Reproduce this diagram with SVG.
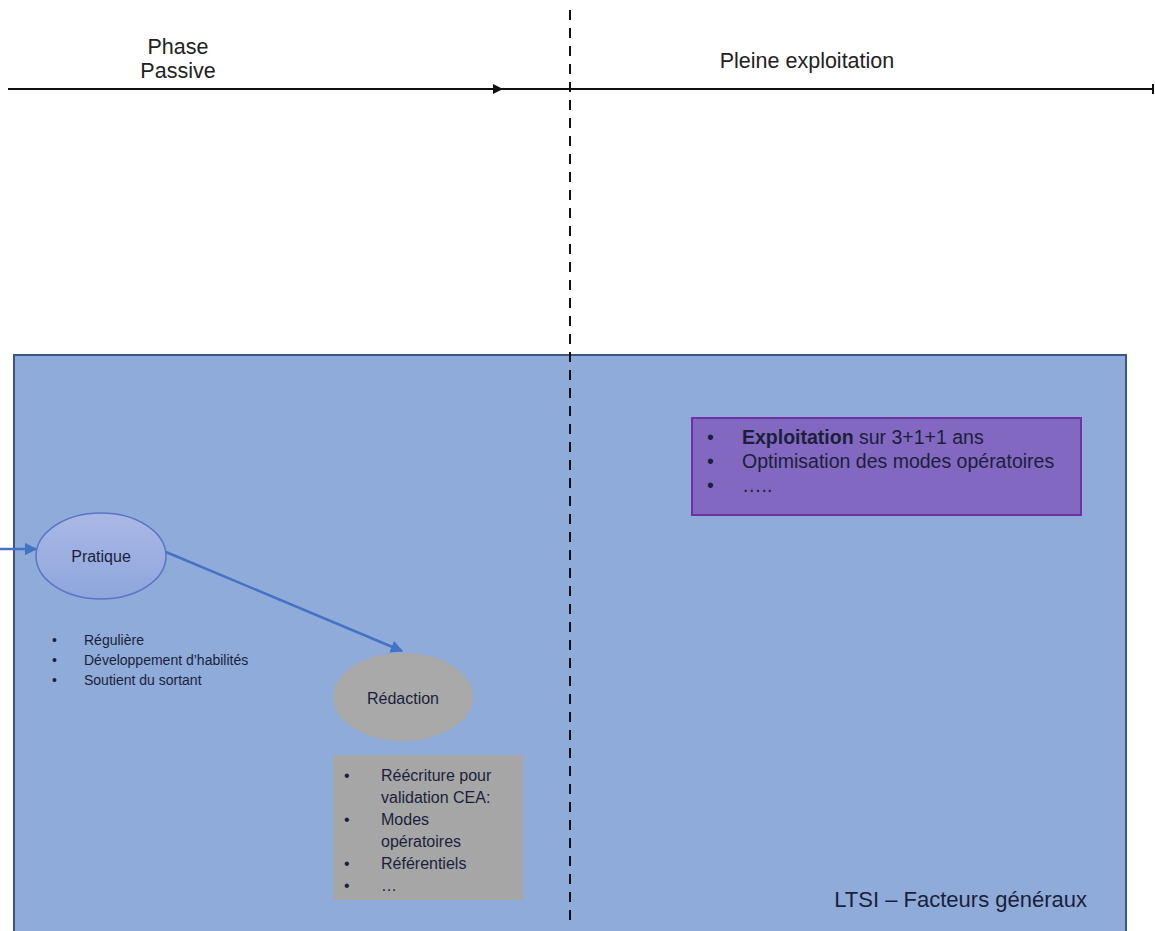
<svg xmlns="http://www.w3.org/2000/svg" width="1155" height="931" viewBox="0 0 1155 931">
<defs>
<style>
text{font-family:"Liberation Sans","Open Sans",sans-serif;fill:#1b1f3b}
.hdr{font-size:21.5px;fill:#222}
.sm{font-size:14px}
.md{font-size:16px}
.pp{font-size:19.5px;fill:#1e1642}
</style>
<marker id="ab" viewBox="0 0 10 10" refX="9" refY="5" markerWidth="5" markerHeight="5" orient="auto"><path d="M0,0 L10,5 L0,10 z" fill="#111"/></marker>
<marker id="ablue" viewBox="0 0 10 10" refX="9" refY="5" markerWidth="5" markerHeight="5" orient="auto"><path d="M0,0 L10,5 L0,10 z" fill="#4472c4"/></marker>
<linearGradient id="gp" x1="0" y1="0" x2="0" y2="1"><stop offset="0" stop-color="#aab8e6"/><stop offset="1" stop-color="#8ea6dc"/></linearGradient>
</defs>
<rect width="1155" height="931" fill="#fff"/>
<g id="timeline">
<line x1="8" y1="89" x2="502" y2="89" stroke="#111" stroke-width="2" marker-end="url(#ab)"/>
<line x1="500" y1="89" x2="1153" y2="89" stroke="#111" stroke-width="2"/>
<line x1="1153" y1="84" x2="1153" y2="94" stroke="#111" stroke-width="2"/>
<text class="hdr" x="178" y="54" text-anchor="middle">Phase</text>
<text class="hdr" x="178" y="78" text-anchor="middle">Passive</text>
<text class="hdr" x="807" y="68" text-anchor="middle">Pleine exploitation</text>
</g>
<g id="main">
<rect x="14" y="355" width="1112" height="585" fill="#8eabd9" stroke="#3d5585" stroke-width="2"/>
<text x="1087" y="907" text-anchor="end" font-size="22">LTSI – Facteurs généraux</text>
</g>
<g id="divider">
<line x1="570" y1="10" x2="570" y2="928" stroke="#111" stroke-width="2" stroke-dasharray="10,8"/>
</g>
<g id="connectors">
<line x1="0" y1="549" x2="36" y2="549" stroke="#4472c4" stroke-width="2.5" marker-end="url(#ablue)"/>
<line x1="166" y1="552" x2="402" y2="651" stroke="#4472c4" stroke-width="2.5" marker-end="url(#ablue)"/>
</g>
<g id="pratique">
<ellipse cx="101" cy="556" rx="65" ry="43" fill="url(#gp)" stroke="#5b74c4" stroke-width="1.5"/>
<text class="md" x="101" y="562" text-anchor="middle">Pratique</text>
<g class="sm">
<text x="52" y="645">•</text><text x="84" y="645">Régulière</text>
<text x="52" y="665">•</text><text x="84" y="665">Développement d’habilités</text>
<text x="52" y="685">•</text><text x="84" y="685">Soutient du sortant</text>
</g>
</g>
<g id="redaction">
<ellipse cx="403" cy="697" rx="70" ry="44" fill="#a9a9a9"/>
<text class="md" x="403" y="704" text-anchor="middle">Rédaction</text>
</g>
<g id="redaction-list">
<rect x="333" y="755" width="190" height="145" fill="#a6a6a6"/>
<g class="md">
<text x="344" y="781">•</text><text x="381" y="781">Réécriture  pour</text>
<text x="381" y="803">validation CEA:</text>
<text x="344" y="825">•</text><text x="381" y="825">Modes</text>
<text x="381" y="847">opératoires</text>
<text x="344" y="869">•</text><text x="381" y="869">Référentiels</text>
<text x="344" y="891">•</text><text x="381" y="891">…</text>
</g>
</g>
<g id="exploitation">
<rect x="692" y="418" width="389" height="97" fill="#8268c0" stroke="#7030a0" stroke-width="2"/>
<g class="pp">
<text x="707" y="444">•</text><text x="742" y="444"><tspan font-weight="bold">Exploitation</tspan> sur 3+1+1 ans</text>
<text x="707" y="468">•</text><text x="742" y="468">Optimisation des modes opératoires</text>
<text x="707" y="492">•</text><text x="742" y="492">…..</text>
</g>
</g>
</svg>
